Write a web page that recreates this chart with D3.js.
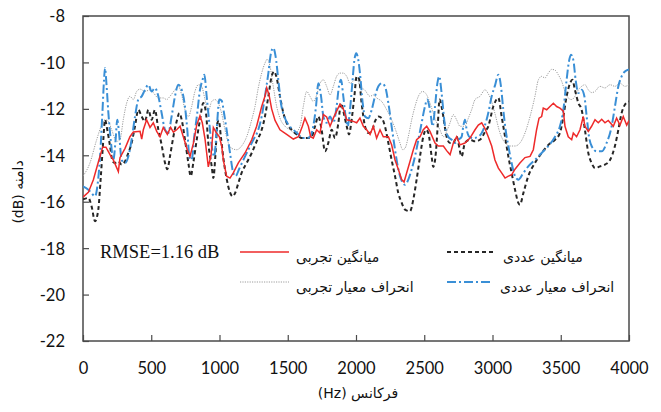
<!DOCTYPE html>
<html><head><meta charset="utf-8">
<script src="https://cdn.jsdelivr.net/npm/d3@7/dist/d3.min.js"></script>
<style>body{margin:0;background:#fff}</style>
</head><body><svg id="c" width="661" height="412"></svg>
<script>
const xTicks = [0,500,1000,1500,2000,2500,3000,3500,4000];
const yTicks = [-8,-10,-12,-14,-16,-18,-20,-22];

const expMeanHz = [0,39,76,112,144,168,198,222,259,271,308,344,369,418,430,442,466,491,515,540,564,588,618,642,662,686,711,735,764,784,808,833,857,874,894,918,938,955,974,999,1016,1028,1052,1077,1101,1138,1187,1236,1272,1309,1333,1346,1363,1382,1407,1443,1492,1541,1578,1607,1626,1651,1668,1687,1712,1736,1761,1785,1810,1834,1858,1883,1907,1932,1956,1980,2005,2029,2054,2078,2103,2127,2151,2176,2200,2237,2261,2286,2310,2335,2352,2371,2396,2420,2444,2469,2493,2518,2542,2579,2603,2640,2664,2689,2713,2737,2762,2798,2835,2872,2896,2921,2945,2969,2994,3018,3043,3067,3092,3116,3140,3165,3201,3238,3275,3299,3323,3341,3360,3372,3397,3421,3446,3470,3494,3519,3531,3555,3580,3592,3616,3641,3665,3677,3702,3726,3751,3775,3800,3824,3848,3885,3909,3934,3958,3983,4000];
const expMeanDb = [-15.8,-15.6,-15.05,-14.3,-13.65,-13.65,-13.97,-14.2,-14.7,-14.1,-13.7,-13.2,-13.0,-12.97,-13.3,-12.9,-12.47,-12.8,-12.6,-12.97,-13.2,-12.8,-13.1,-12.8,-13.0,-12.9,-12.75,-13.2,-13.76,-14.05,-13.5,-12.7,-12.3,-12.6,-13.3,-14.5,-14.0,-12.8,-13.0,-13.2,-13.6,-14.2,-14.9,-14.98,-14.76,-14.33,-13.9,-13.33,-12.75,-11.9,-11.46,-11.1,-11.4,-12.0,-12.5,-12.9,-13.1,-13.3,-13.2,-12.75,-12.4,-12.75,-13.2,-13.26,-12.9,-13.04,-12.25,-12.35,-12.75,-12.4,-12.1,-11.8,-12.0,-12.47,-12.5,-12.54,-12.6,-12.4,-12.75,-12.9,-13.1,-12.75,-13.26,-12.9,-13.2,-13.2,-13.55,-14.2,-14.6,-15.05,-15.15,-14.76,-14.26,-13.76,-13.33,-13.2,-12.9,-12.75,-12.97,-13.47,-13.6,-13.6,-13.8,-13.97,-13.47,-13.2,-13.55,-13.47,-13.26,-12.9,-12.7,-12.6,-12.85,-13.2,-13.6,-14.2,-14.55,-14.76,-14.98,-14.9,-14.84,-14.6,-14.33,-14.1,-14.05,-13.76,-12.9,-12.4,-12.33,-11.97,-12.04,-11.9,-11.76,-11.9,-11.97,-12.1,-12.75,-13.2,-13.33,-13.04,-13.2,-12.9,-12.33,-12.75,-12.97,-12.75,-12.47,-12.6,-12.45,-12.6,-12.5,-12.75,-12.4,-12.7,-12.33,-12.7,-12.5];

const numMeanHz = [0,39,63,88,112,129,149,161,178,198,217,234,259,283,308,332,356,381,405,430,454,479,503,527,552,576,601,618,637,662,686,706,723,747,772,789,808,833,857,881,901,918,943,955,970,985,995,1010,1030,1052,1077,1095,1114,1138,1162,1199,1236,1272,1309,1333,1358,1382,1401,1419,1443,1468,1492,1529,1565,1602,1639,1675,1700,1724,1748,1773,1797,1822,1846,1871,1890,1907,1932,1949,1968,1988,2005,2022,2041,2066,2090,2115,2139,2164,2188,2212,2237,2261,2286,2310,2335,2359,2396,2420,2444,2469,2493,2513,2530,2554,2566,2585,2600,2612,2630,2664,2689,2713,2737,2774,2798,2835,2872,2908,2945,2969,3006,3043,3067,3092,3116,3140,3165,3189,3201,3226,3262,3311,3360,3409,3458,3494,3519,3543,3568,3585,3604,3629,3653,3677,3702,3726,3751,3787,3824,3861,3897,3922,3946,3970,4000];
const numMeanDb = [-15.9,-15.84,-16.2,-16.84,-16.34,-15.05,-13.33,-12.47,-12.9,-13.6,-14.26,-14.33,-14.26,-14.4,-14.26,-13.9,-13.47,-12.75,-12.04,-12.33,-12.54,-12.04,-12.47,-12.04,-12.9,-13.55,-14.33,-14.6,-14.05,-13.2,-12.54,-12.18,-12.47,-13.33,-14.33,-14.9,-14.33,-13.33,-12.47,-11.75,-12.18,-13.47,-14.48,-14.98,-14.0,-12.6,-12.5,-13.2,-14.2,-15.0,-15.6,-15.77,-15.63,-15.2,-14.76,-14.33,-13.9,-13.4,-12.9,-12.33,-11.46,-10.6,-10.39,-10.67,-11.46,-12.18,-12.6,-12.9,-13.1,-13.26,-13.26,-13.2,-12.75,-12.33,-12.9,-13.83,-13.47,-12.9,-13.26,-12.6,-11.75,-12.1,-12.75,-13.1,-12.47,-11.46,-10.6,-10.7,-11.75,-12.75,-13.04,-12.97,-12.54,-12.33,-12.4,-12.75,-13.47,-14.2,-14.9,-15.63,-16.05,-16.34,-16.41,-15.9,-15.05,-14.05,-13.2,-12.9,-13.04,-14.05,-14.5,-13.9,-12.6,-11.6,-12.0,-13.2,-13.47,-13.47,-13.2,-14.05,-13.47,-13.33,-13.4,-13.33,-13.0,-12.75,-11.9,-11.53,-12.33,-13.2,-14.05,-14.76,-15.48,-16.05,-16.13,-15.63,-14.9,-14.33,-13.9,-13.55,-13.33,-13.04,-12.33,-11.46,-10.9,-10.75,-11.18,-11.75,-12.04,-12.9,-13.9,-14.33,-14.55,-14.48,-14.4,-14.2,-13.6,-12.9,-12.18,-11.82,-11.68];

const expStdHz = [0,51,100,137,161,186,210,247,271,295,320,344,369,393,418,454,491,515,552,588,613,637,674,698,723,747,772,796,820,845,869,894,918,943,967,991,1016,1040,1065,1089,1126,1162,1199,1236,1260,1284,1309,1333,1350,1370,1394,1419,1443,1480,1516,1553,1590,1614,1639,1663,1687,1712,1736,1761,1785,1810,1834,1858,1883,1907,1932,1956,1980,2005,2029,2066,2103,2127,2151,2188,2225,2261,2298,2322,2342,2359,2383,2408,2432,2457,2488,2518,2542,2566,2591,2615,2640,2664,2689,2713,2737,2762,2798,2823,2847,2872,2908,2945,2969,2994,3018,3055,3092,3128,3165,3201,3238,3275,3311,3336,3360,3384,3409,3433,3458,3482,3507,3531,3555,3580,3604,3629,3653,3677,3702,3726,3751,3787,3824,3861,3897,3934,3970,4000];
const expStdDb = [-14.9,-14.33,-13.33,-12.7,-12.47,-12.54,-12.9,-13.4,-13.33,-12.47,-11.75,-11.46,-11.6,-11.25,-11.15,-11.25,-11.18,-11.3,-11.53,-11.53,-11.6,-11.46,-11.18,-11.03,-11.4,-12.04,-12.33,-11.9,-11.25,-10.96,-11.03,-11.6,-12.1,-11.68,-11.6,-11.75,-12.2,-12.9,-13.47,-13.7,-13.76,-13.6,-13.2,-12.47,-11.9,-11.1,-10.46,-10.03,-9.86,-10.17,-11.03,-11.9,-12.4,-12.75,-12.9,-13.04,-12.75,-11.9,-11.25,-11.46,-11.68,-11.4,-10.9,-10.75,-11.03,-11.4,-11.03,-10.6,-10.46,-10.46,-10.6,-10.9,-10.8,-10.7,-11.0,-11.2,-11.46,-11.4,-11.53,-11.68,-12.04,-12.47,-13.04,-13.47,-13.76,-13.7,-13.2,-12.47,-11.9,-11.46,-11.25,-11.4,-11.75,-12.18,-12.6,-12.9,-13.2,-12.97,-12.6,-12.25,-12.47,-12.75,-12.75,-12.4,-12.04,-11.6,-11.46,-11.18,-11.35,-11.68,-12.2,-13.04,-13.47,-13.6,-13.6,-13.47,-13.04,-12.33,-11.46,-10.75,-10.6,-10.67,-10.46,-10.3,-10.33,-10.53,-10.82,-11.25,-11.53,-11.6,-11.46,-11.18,-11.03,-10.96,-11.18,-11.3,-11.25,-11.03,-11.1,-10.96,-11.03,-10.9,-11.03,-10.96];

const numStdHz = [0,39,63,88,105,125,142,154,161,173,186,203,222,239,251,264,283,308,332,356,381,405,430,454,479,503,527,552,576,601,625,649,674,698,723,747,764,779,796,815,837,857,876,889,906,925,943,962,979,999,1016,1033,1052,1077,1101,1118,1143,1175,1211,1248,1284,1309,1333,1358,1377,1394,1411,1431,1450,1475,1504,1541,1578,1607,1639,1663,1687,1707,1724,1744,1761,1785,1810,1834,1858,1875,1890,1907,1924,1939,1956,1973,1988,2002,2017,2029,2049,2066,2090,2115,2139,2164,2188,2212,2237,2261,2286,2310,2335,2359,2383,2408,2432,2457,2481,2505,2522,2542,2562,2579,2596,2610,2627,2652,2676,2701,2725,2750,2774,2786,2798,2811,2830,2859,2896,2921,2945,2969,2994,3018,3043,3062,3079,3096,3116,3140,3165,3189,3226,3262,3311,3360,3409,3458,3494,3519,3543,3560,3575,3592,3609,3629,3653,3673,3690,3707,3726,3763,3800,3836,3873,3897,3922,3946,3970,4000];
const numStdDb = [-15.34,-15.48,-15.63,-15.77,-15.34,-14.05,-12.18,-10.75,-10.24,-11.03,-12.18,-13.33,-14.2,-13.33,-12.47,-13.04,-14.2,-14.33,-14.05,-13.33,-12.33,-11.6,-11.46,-11.18,-10.96,-11.25,-11.1,-11.46,-12.18,-12.9,-13.04,-12.33,-11.46,-10.96,-11.18,-11.9,-12.9,-14.05,-14.2,-13.2,-12.18,-11.18,-10.75,-10.53,-11.46,-12.6,-13.6,-14.05,-12.9,-11.6,-11.65,-12.18,-12.9,-13.9,-14.76,-14.9,-14.6,-14.2,-13.76,-13.33,-12.9,-12.33,-11.46,-10.46,-9.6,-9.38,-9.74,-10.75,-11.75,-12.33,-12.68,-12.9,-13.1,-13.26,-13.26,-13.2,-12.75,-11.9,-10.9,-11.46,-12.33,-12.6,-12.33,-12.6,-11.9,-11.03,-10.75,-11.46,-12.33,-12.75,-12.04,-10.9,-9.9,-9.6,-9.9,-10.46,-11.75,-12.33,-12.4,-12.04,-11.46,-11.03,-10.9,-11.03,-11.75,-12.75,-13.76,-14.6,-15.1,-15.27,-15.05,-14.6,-14.05,-13.33,-12.6,-11.9,-11.6,-12.04,-12.75,-11.9,-10.9,-10.6,-11.32,-12.75,-13.2,-13.33,-13.47,-13.33,-13.2,-12.75,-12.47,-12.9,-13.2,-13.26,-13.2,-13.04,-12.7,-12.18,-11.46,-11.0,-10.53,-11.03,-12.04,-12.9,-13.6,-14.33,-14.9,-15.05,-14.76,-14.48,-14.2,-13.9,-13.6,-13.2,-12.75,-12.04,-10.75,-9.96,-9.67,-9.89,-10.75,-11.32,-11.18,-11.46,-12.33,-13.2,-13.6,-13.83,-13.83,-13.47,-12.75,-11.9,-11.03,-10.6,-10.39,-10.3];

const legendNames = ["میانگین تجربی","میانگین عددی","انحراف معیار تجربی","انحراف معیار عددی"];
const rmseText = "RMSE=1.16 dB";
const xTitle = "فرکانس (Hz)";
const yTitle = "دامنه (dB)";

const svg = d3.select("#c");
const x = d3.scaleLinear().domain([0,4000]).range([83,629]);
const y = d3.scaleLinear().domain([-22,-8]).range([341,16]);
const axisColor = "#4a4a4a";

svg.append("clipPath").attr("id","clip").append("rect")
  .attr("x",83).attr("y",16).attr("width",546).attr("height",325);

const gx = svg.append("g").attr("transform","translate(0,341)")
  .call(d3.axisBottom(x).tickValues(xTicks).tickSize(-6).tickSizeOuter(0).tickPadding(21).tickFormat(d3.format("d")));
const gy = svg.append("g").attr("transform","translate(83,0)")
  .call(d3.axisLeft(y).tickValues(yTicks).tickSize(-6).tickSizeOuter(0).tickPadding(18).tickFormat(d=>d));
[gx,gy].forEach(g=>{
  g.select(".domain").remove();
  g.selectAll(".tick line").attr("stroke",axisColor).attr("stroke-width",1.2);
  g.selectAll(".tick text").attr("fill","#111").style("font-family","Lato, 'Open Sans', sans-serif").style("font-size","16.5px");
});
gy.selectAll(".tick text").attr("dy","0.36em");

svg.append("rect").attr("x",83).attr("y",16).attr("width",546).attr("height",325)
  .attr("fill","none").attr("stroke",axisColor).attr("stroke-width",1.5);

function draw(hz, db, style, curve){
  const pts = hz.map((h,i)=>[h,db[i]]);
  const line = d3.line().x(d=>x(d[0])).y(d=>y(d[1])).curve(curve);
  const p = svg.append("path").datum(pts).attr("d",line).attr("fill","none")
    .attr("clip-path","url(#clip)").attr("stroke",style.c).attr("stroke-width",style.w);
  if(style.dash) p.attr("stroke-dasharray",style.dash);
}
const styles = [
  {c:"#ee2a2a", w:1.5, dash:null},
  {c:"#262626", w:2, dash:"4,3"},
  {c:"#9c9c9c", w:1, dash:"1.2,1.2"},
  {c:"#3a8fd6", w:2, dash:"9,3,2,3"}
];
draw(expStdHz, expStdDb, styles[2], d3.curveMonotoneX);
draw(numMeanHz, numMeanDb, styles[1], d3.curveMonotoneX);
draw(numStdHz, numStdDb, styles[3], d3.curveMonotoneX);
draw(expMeanHz, expMeanDb, styles[0], d3.curveLinear);

const persianFont = "'DejaVu Sans', 'Noto Sans', sans-serif";
svg.append("text").attr("x",100).attr("y",258).text(rmseText)
  .style("font-family","'Liberation Serif', 'Times New Roman', serif").style("font-size","18.5px").attr("fill","#111");
const legendItems = [
  {lx:[240,289], ly:252, left:296, ty:258, s:styles[0], t:legendNames[0]},
  {lx:[447,493], ly:252, left:503, ty:258, s:styles[1], t:legendNames[1]},
  {lx:[240,289], ly:282, left:296, ty:288, s:styles[2], t:legendNames[2]},
  {lx:[447,493], ly:282, left:500, ty:288, s:styles[3], t:legendNames[3]}
];
legendItems.forEach(it=>{
  const l = svg.append("line").attr("x1",it.lx[0]).attr("x2",it.lx[1]).attr("y1",it.ly).attr("y2",it.ly)
    .attr("stroke",it.s.c).attr("stroke-width",it.s.w);
  if(it.s.dash) l.attr("stroke-dasharray",it.s.dash);
  const t = svg.append("text").attr("y",it.ty).attr("text-anchor","middle")
    .attr("dominant-baseline","middle").attr("direction","rtl")
    .style("font-family",persianFont).style("font-size","14px").attr("fill","#111").text(it.t);
  const w = t.node().getComputedTextLength();
  t.attr("x", it.left + w/2);
});

svg.append("text").attr("x",358).attr("y",398).attr("text-anchor","middle").attr("direction","rtl")
  .style("font-family",persianFont).style("font-size","14px").attr("fill","#111").text(xTitle);
svg.append("text").attr("transform","translate(19,192) rotate(-90)").attr("text-anchor","middle")
  .attr("dominant-baseline","middle").attr("direction","rtl")
  .style("font-family",persianFont).style("font-size","14px").attr("fill","#111").text(yTitle);
</script></body></html>
